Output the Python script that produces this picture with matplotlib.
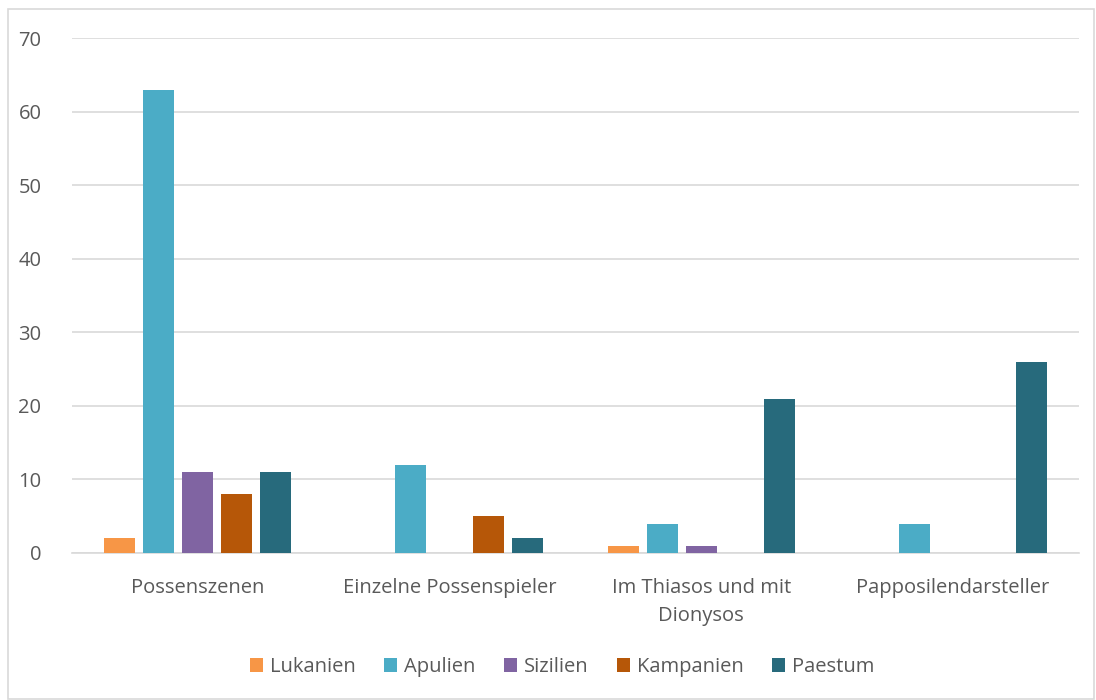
import numpy as np
import matplotlib
matplotlib.use('Agg')
import matplotlib.pyplot as plt
from matplotlib.patches import Rectangle

plt.rcParams['font.family'] = ['Open Sans', 'DejaVu Sans']

categories = ['Possenszenen', 'Einzelne Possenspieler', 'Im Thiasos und mit\nDionysos', 'Papposilendarsteller']
series = ['Lukanien', 'Apulien', 'Sizilien', 'Kampanien', 'Paestum']
lukanien = [2, 0, 1, 0]
apulien = [63, 12, 4, 4]
sizilien = [11, 0, 1, 0]
kampanien = [8, 5, 0, 0]
paestum = [11, 2, 21, 26]
colors = ['#F79646', '#4BACC6', '#8064A2', '#B65708', '#276A7C']

values = [lukanien, apulien, sizilien, kampanien, paestum]

fig = plt.figure(figsize=(10.96, 7.0), dpi=100)
ax = fig.add_axes([72/1096, 1-553/700, (1079-72)/1096, (553-38)/700])

x = np.arange(len(categories))
w = 0.123
step = 0.155
for i, (name, vals) in enumerate(zip(series, values)):
    ax.bar(x + (i-2)*step, vals, width=w, color=colors[i], label=name, zorder=3)

ax.set_xlim(-0.5, 3.5)
ax.set_ylim(0, 70)
ax.set_yticks(np.arange(0, 71, 10))
ax.yaxis.grid(True, color='#D9D9D9', lw=1.2, zorder=0)
for s in ['top', 'right', 'left']:
    ax.spines[s].set_visible(False)
ax.spines['bottom'].set_color('#D9D9D9')
ax.spines['bottom'].set_linewidth(1.2)
ax.set_xticks(x)
ax.set_xticklabels(categories, linespacing=1.55)
ax.tick_params(axis='both', length=0, labelsize=14.5, colors='#595959')
ax.tick_params(axis='y', pad=22)
ax.tick_params(axis='x', pad=18)

leg = ax.legend(loc='center', bbox_to_anchor=((562-72)/(1079-72), (553-667)/(553-38)), ncol=5, frameon=False,
                fontsize=14.5, handlelength=0.65, handleheight=0.65, handletextpad=0.35, columnspacing=1.4)
for t in leg.get_texts():
    t.set_color('#595959')

fig.patches.append(Rectangle((8/1096, 1/700), 1086/1096, 690/700, transform=fig.transFigure,
                             fill=False, edgecolor='#D9D9D9', lw=1.2))

fig.savefig('out.png', dpi=100)
